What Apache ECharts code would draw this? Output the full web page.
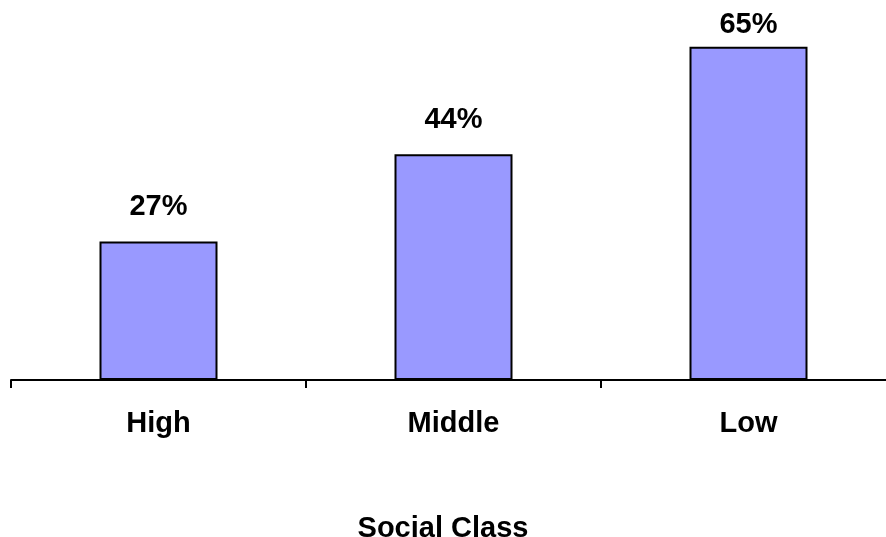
<!DOCTYPE html>
<html>
<head>
<meta charset="utf-8">
<script src="https://cdn.jsdelivr.net/npm/echarts@6/dist/echarts.min.js"></script>
<style>
html, body { margin: 0; padding: 0; background: #fff; }
#chart { width: 886px; height: 537px; }
</style>
</head>
<body>
<div id="chart"></div>
<script>
// Share of respondents by social class
const categories = ['High', 'Middle', 'Low'];
const values = [27, 44, 65];
const axisTitle = 'Social Class';

const font = 'Arial, "Liberation Sans", sans-serif';
const chart = echarts.init(document.getElementById('chart'));

// The tallest bar sits near the top edge, so its label hugs the bar more closely.
const maxVal = Math.max(...values);
const barData = values.map(v => (v === maxVal
  ? { value: v, label: { distance: 7 } }
  : { value: v }));

chart.setOption({
  animation: false,
  title: {
    text: axisTitle,
    left: 'center',
    top: 509,
    textStyle: { fontFamily: font, fontSize: 29, fontWeight: 'bold', color: '#000' }
  },
  // The plot area runs a little past the right edge of the canvas.
  grid: { left: 11, width: 885, top: 21, height: 359, outerBoundsMode: 'none', containLabel: false },
  xAxis: {
    type: 'category',
    data: categories,
    axisLine: { lineStyle: { color: '#000', width: 2 } },
    axisTick: { show: true, length: 8, lineStyle: { color: '#000', width: 2 } },
    axisLabel: { margin: 29, fontFamily: font, fontSize: 29, fontWeight: 'bold', color: '#000' }
  },
  yAxis: {
    type: 'value',
    min: 0,
    max: 70,
    show: false,
    splitLine: { show: false }
  },
  series: [{
    type: 'bar',
    data: barData,
    barWidth: 118,
    itemStyle: { color: '#9999FF', borderColor: '#000', borderWidth: 2 },
    label: {
      show: true,
      position: 'top',
      distance: 20,
      formatter: '{c}%',
      fontFamily: font,
      fontSize: 29,
      fontWeight: 'bold',
      color: '#000'
    }
  }]
});
</script>
</body>
</html>
